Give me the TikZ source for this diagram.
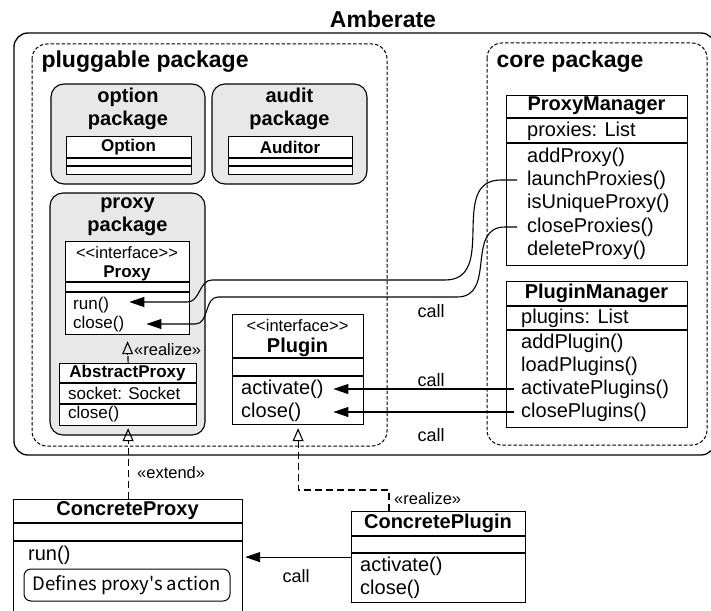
\documentclass[tikz,border=0pt]{standalone}
\usepackage{fontspec}
\setmainfont{Liberation Sans}
\newfontfamily\notefont{Noto Sans CJK JP}
\usetikzlibrary{arrows.meta,positioning,calc}
\definecolor{pk}{HTML}{E8E8E8}
\newcommand{\ster}{<\kern0pt<interface>\kern0pt>}

\begin{document}
\begin{tikzpicture}[x=1pt,y=-1pt,
  cls/.style={draw,line width=1.2pt,fill=white,anchor=north west,inner sep=0pt},
  cline/.style={line width=1.1pt},
  pkgbox/.style={draw,line width=1.1pt,fill=pk,rounded corners=13pt},
  area/.style={draw,dash pattern=on 3.5pt off 2pt,line width=1pt,rounded corners=15pt},
  hd/.style={font=\bfseries\fontsize{23}{27}\selectfont},
  pkg/.style={font=\bfseries\fontsize{20}{23}\selectfont,align=center,inner sep=0pt},
  cn/.style={font=\bfseries\fontsize{20}{23}\selectfont,inner sep=0pt},
  cns/.style={font=\bfseries\fontsize{17}{20}\selectfont,inner sep=0pt},
  mth/.style={font=\fontsize{20}{23}\selectfont,anchor=west,inner sep=0pt},
  mths/.style={font=\fontsize{17}{20}\selectfont,anchor=west,inner sep=0pt},
  stereo/.style={font=\fontsize{16.5}{19}\selectfont,inner sep=0pt},
  lbl/.style={font=\fontsize{18}{21}\selectfont,inner sep=0pt},
  call/.style={-{Triangle[length=15pt,width=10pt]},line width=1.1pt},
  gen/.style={line width=1.1pt,dash pattern=on 7pt off 4pt,shorten >=13pt},
  gtip/.style={-{Triangle[open,length=13pt,width=11pt]},line width=1.1pt,solid},
]
  \useasboundingbox (0,0) rectangle (711,610);
  \clip (0,0) rectangle (711,610);

  % title and frame
  \node[hd] (title) at (383,19) {Amberate};
  \draw[line width=1.3pt,rounded corners=14pt] (14,33) rectangle (715,455);

  % package areas
  \draw[area] (32,44) rectangle (387,446);
  \draw[area] (487,43) rectangle (707,445);
  \node[hd,anchor=west] (plugLbl) at (38,62) {pluggable package};
  \node[hd,anchor=west] (coreLbl) at (493,62) {core package};

  % sub packages
  \draw[pkgbox] (51,84) rectangle (205,184);
  \draw[pkgbox] (212,84) rectangle (367,184);
  \draw[pkgbox] (50,193) rectangle (205,435);
  \node[pkg] (optLbl) at (128,109) {option\\package};
  \node[pkg] (audLbl) at (289.5,109) {audit\\package};
  \node[pkg] (prxLbl) at (127.5,217) {proxy\\package};

  % class boxes
  \node[cls,minimum width=125pt,minimum height=38pt] (option) at (66,136) {};
  \node[cls,minimum width=124pt,minimum height=38pt] (auditor) at (228,136) {};
  \node[cls,minimum width=124pt,minimum height=93pt] (proxy) at (65,241) {};
  \node[cls,minimum width=137pt,minimum height=62pt] (aproxy) at (59,363) {};
  \node[cls,minimum width=131pt,minimum height=110pt] (plugin) at (232,314) {};
  \node[cls,minimum width=181pt,minimum height=170pt] (pxMgr) at (506,95) {};
  \node[cls,minimum width=181pt,minimum height=146pt] (plMgr) at (506,281) {};
  \node[cls,minimum width=229pt,minimum height=125pt] (cproxy) at (13,499) {};
  \node[cls,minimum width=174pt,minimum height=91pt] (cplugin) at (351,511) {};

  % compartments
  \foreach \xa/\xb/\y in {66/191/158,66/191/166,228/352/158,228/352/166,
      65/189/282,65/189/292,59/196/383,59/196/404,232/363/358,232/363/376,
      506/687/118,506/687/143,506/687/306,506/687/330,
      13/242/523,13/242/541,351/525/536,351/525/553}
    \draw[cline] (\xa,\y) -- (\xb,\y);

  % class names
  \node[cns] (optName) at (128.5,147) {Option};
  \node[cns] (audName) at (290,147) {Auditor};
  \node[stereo] (pxSter) at (127,253) {\ster};
  \node[cns] (pxName) at (127,273) {Proxy};
  \node[cns] (apName) at (127.5,373) {AbstractProxy};
  \node[stereo] (plSter) at (297.5,326) {\ster};
  \node[cn] (plName) at (297.5,347) {Plugin};
  \node[cn] (pmName) at (596.5,106) {ProxyManager};
  \node[cn] (lmName) at (596.5,293) {PluginManager};
  \node[cn] (cpxName) at (127.5,511) {ConcreteProxy};
  \node[cn] (cplName) at (438,523) {ConcretePlugin};

  % members
  \node[mths] (pxRun) at (73,305) {run()};
  \node[mths] (pxClose) at (73,324) {close()};
  \node[mths] (apSock) at (68,393) {socket: Socket};
  \node[mths] (apClose) at (68,414) {close()};
  \node[mth,text width=88pt,align=left] (plAct) at (241,389) {activate()};
  \node[mth,text width=88pt,align=left] (plClose) at (241,412) {close()};
  \foreach \n/\t/\y in {pmList/proxies: List/131,pmAdd/addProxy()/157,
      pmLaunch/launchProxies()/180,pmUnique/isUniqueProxy()/203,
      pmClose/closeProxies()/227,pmDel/deleteProxy()/250}
    \node[mth] (\n) at (527,\y) {\t};
  \foreach \n/\t/\y in {lmList/plugins: List/318,lmAdd/addPlugin()/343,
      lmLoad/loadPlugins()/366,lmAct/activatePlugins()/389,lmClose/closePlugins()/412}
    \node[mth] (\n) at (521,\y) {\t};
  \node[mth] (cpxRun) at (28,555) {run()};
  \node[draw,line width=1pt,rounded corners=7pt,minimum width=206pt,minimum height=32pt,
    font=\notefont\fontsize{18.5}{21}\selectfont] (note) at (127,585) {Defines proxy's action};
  \node[mth] (cplAct) at (360,566) {activate()};
  \node[mth] (cplClose) at (360,589) {close()};

  % calls
  \draw[call] ([xshift=-10pt]pmLaunch.west) -- ++(-16,0)
    to[out=180,in=0,looseness=1.2] (445,280) -- (212,280)
    to[out=180,in=0] ($(pxRun.east)+(78,-3)$) -- ($(pxRun.east)+(20,-3)$);
  \draw[call] ([xshift=-10pt]pmClose.west) -- ++(-12,0)
    to[out=180,in=0,looseness=1.2] (457,297) -- (218,297)
    to[out=180,in=0] ($(pxClose.east)+(71,0)$) -- ($(pxClose.east)+(22,0)$);
  \draw[call] ([xshift=-7pt]lmAct.west) -- ([xshift=4pt]plAct.east);
  \draw[call] ([xshift=-7pt]lmClose.west) -- ([xshift=4pt]plClose.east);
  \draw[call] (cplugin.west) -- ([xshift=2pt]cplugin.west -| cproxy.east);
  \node[lbl] (callA) at (431,311) {call};
  \node[lbl] (callB) at (431,380) {call};
  \node[lbl] (callC) at (431,435) {call};
  \node[lbl] (callD) at (296,576) {call};

  % realize / extend
  \coordinate (tipPx) at ([yshift=-6pt]proxy.south);
  \coordinate (tipAp) at ([yshift=-2pt]aproxy.south);
  \coordinate (tipPl) at ([yshift=-3pt]plugin.south);
  \draw[gen] (aproxy.north) -- (tipPx);
  \draw[gtip] ([yshift=-13pt]tipPx) -- (tipPx);
  \node[stereo,anchor=west] (rzA) at (134,350) {«realize»};
  \draw[gen] (cproxy.north) -- (tipAp);
  \draw[gtip] ([yshift=-13pt]tipAp) -- (tipAp);
  \node[stereo,anchor=west] (exA) at (137,473) {«extend»};
  \draw[gen] ($(cplugin.north west)+(38,0)$) -- ++(0,-21) -| (tipPl);
  \draw[gtip] ([yshift=-13pt]tipPl) -- (tipPl);
  \node[stereo,anchor=west] (rzB) at (394,499) {«realize»};
\end{tikzpicture}
\end{document}
